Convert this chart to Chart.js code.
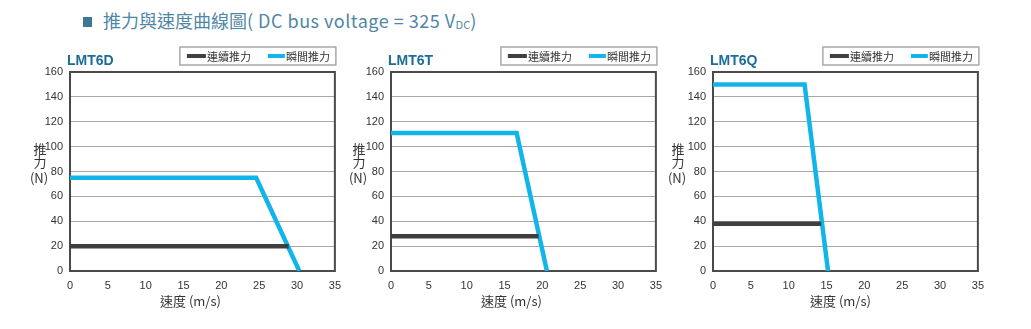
<!DOCTYPE html>
<html>
<head>
<meta charset="utf-8">
<script src="https://cdn.jsdelivr.net/npm/chart.js@4.4.1/dist/chart.umd.min.js"></script>
<style>
  body { margin: 0; background: #fff; width: 1031px; height: 329px; overflow: hidden; position: relative; }
  #head { position: absolute; left: 83px; top: 7px; font-family: "Noto Sans CJK TC", sans-serif; font-size: 18px; color: #4f86a5; white-space: nowrap; }
  #head .sq { display: inline-block; width: 9px; height: 10px; background: #3c7893; margin-right: 11px; vertical-align: 1px; }
  #head .lat { letter-spacing: 0.5px; }
  #head sub { font-size: 11px; vertical-align: -1px; letter-spacing: 0; }
  .box { position: absolute; top: 0; }
</style>
</head>
<body>
<div id="head"><span class="sq"></span>推力與速度曲線圖<span class="lat">( DC bus voltage = 325 V</span><sub>DC</sub>)</div>
<div class="box" style="left:0px"><canvas id="c0" width="349" height="329"></canvas></div>
<div class="box" style="left:321px"><canvas id="c1" width="349" height="329"></canvas></div>
<div class="box" style="left:643px"><canvas id="c2" width="349" height="329"></canvas></div>
<script>
// Data
const models = ['LMT6D', 'LMT6T', 'LMT6Q'];
const seriesNames = ['連續推力', '瞬間推力'];
const speedTicks = [0, 5, 10, 15, 20, 25, 30, 35];
const forceTicks = [0, 20, 40, 60, 80, 100, 120, 140, 160];

// continuous force (連續推力)
const contSpeed6D = [0, 28.9];
const contForce6D = [20, 20];
const contSpeed6T = [0, 19.5];
const contForce6T = [28, 28];
const contSpeed6Q = [0, 14.3];
const contForce6Q = [38, 38];

// peak force (瞬間推力)
const peakSpeed6D = [0, 24.6, 30.3];
const peakForce6D = [75, 75, 0];
const peakSpeed6T = [0, 16.6, 20.6];
const peakForce6T = [111, 111, 0];
const peakSpeed6Q = [0, 12.1, 15.2];
const peakForce6Q = [150, 150, 0];

const contData = [[contSpeed6D, contForce6D], [contSpeed6T, contForce6T], [contSpeed6Q, contForce6Q]];
const peakData = [[peakSpeed6D, peakForce6D], [peakSpeed6T, peakForce6T], [peakSpeed6Q, peakForce6Q]];

const DARK = '#3f3f3f';
const BLUE = '#12b5ea';
const TXT = '#333';
// distance of the 推力 label from the plot edge, per chart
const yTitleGap = [30, 32, 35];
// x title is a bit left of centre in the original
const xTitleShift = [-12, -12, -5];

function pts(xs, ys) {
    return xs.map((x, i) => ({ x: x, y: ys[i] }));
}

// frame, model name, legend box, axis titles
const decorPlugin = {
    id: 'decor',
    beforeDatasetsDraw(chart) {
        const a = chart.chartArea;
        const ctx = chart.ctx;
        ctx.save();
        ctx.strokeStyle = '#4a4a4a';
        ctx.lineWidth = 2;
        ctx.strokeRect(a.left, a.top, a.right - a.left, a.bottom - a.top);
        ctx.restore();
    },
    afterDraw(chart) {
        const a = chart.chartArea;
        const ctx = chart.ctx;
        const idx = chart.options.plugins.decor.index;
        ctx.save();
        // model
        ctx.font = 'bold 14px "Liberation Sans", Arial, sans-serif';
        ctx.fillStyle = '#1b6c98';
        ctx.textBaseline = 'alphabetic';
        ctx.textAlign = 'left';
        ctx.fillText(models[idx], a.left - 3, a.top - 7);

        // legend
        const bw = 156, bh = 18;
        const bx = a.right + 1 - bw, by = a.top - 25;
        ctx.strokeStyle = '#a8a8a8';
        ctx.lineWidth = 1.5;
        ctx.strokeRect(bx, by, bw, bh);
        ctx.font = '11px "Noto Sans CJK TC", sans-serif';
        ctx.textBaseline = 'middle';
        const offs = [[7, 26], [88, 105]];
        chart.data.datasets.forEach((ds, i) => {
            ctx.strokeStyle = ds.borderColor;
            ctx.lineWidth = 4;
            ctx.beginPath();
            ctx.moveTo(bx + offs[i][0], by + bh / 2);
            ctx.lineTo(bx + offs[i][1], by + bh / 2);
            ctx.stroke();
            ctx.fillStyle = TXT;
            ctx.fillText(ds.label, bx + offs[i][1] + 1, by + bh / 2 + 0.5);
        });

        // y title
        const cx = a.left - yTitleGap[idx];
        ctx.font = '13px "Noto Sans CJK TC", sans-serif';
        ctx.textAlign = 'center';
        ctx.fillStyle = TXT;
        ctx.fillText('推', cx, 149);
        ctx.fillText('力', cx, 162);
        ctx.fillText('(N)', cx - 1, 178);

        // x title
        ctx.fillText('速度 (m/s)', (a.left + a.right) / 2 + xTitleShift[idx], 301);
        ctx.restore();
    }
};

const tickFont = { family: '"Liberation Sans", Arial, sans-serif', size: 11 };

function makeChart(i) {
    const ctx = document.getElementById('c' + i).getContext('2d');
    return new Chart(ctx, {
        type: 'line',
        data: {
            datasets: [
                { label: seriesNames[0], data: pts(contData[i][0], contData[i][1]), borderColor: DARK, borderWidth: 4.5, pointRadius: 0, tension: 0, borderCapStyle: 'butt' },
                { label: seriesNames[1], data: pts(peakData[i][0], peakData[i][1]), borderColor: BLUE, borderWidth: 4.5, pointRadius: 0, tension: 0, borderCapStyle: 'butt' }
            ]
        },
        options: {
            responsive: false,
            animation: false,
            devicePixelRatio: 1,
            layout: { padding: { left: 40, right: 11, top: 72, bottom: 20 } },
            plugins: { legend: { display: false }, tooltip: { enabled: false }, decor: { index: i } },
            scales: {
                x: {
                    type: 'linear', min: speedTicks[0], max: speedTicks[speedTicks.length - 1],
                    afterBuildTicks: s => { s.ticks = speedTicks.map(v => ({ value: v })); },
                    afterFit: s => { s.height = 38; },
                    grid: { display: false, drawTicks: false },
                    border: { display: false },
                    ticks: { font: tickFont, color: TXT, padding: 8, maxRotation: 0, autoSkip: false },
                    title: { display: false }
                },
                y: {
                    min: forceTicks[0], max: forceTicks[forceTicks.length - 1],
                    afterBuildTicks: s => { s.ticks = forceTicks.map(v => ({ value: v })); },
                    afterFit: s => { s.width = 30; },
                    grid: { color: '#a8a8a8', lineWidth: 1, drawTicks: false },
                    border: { display: false },
                    ticks: { font: tickFont, color: TXT, padding: 7 }
                }
            }
        },
        plugins: [decorPlugin]
    });
}

models.forEach((m, i) => makeChart(i));
</script>
</body>
</html>
